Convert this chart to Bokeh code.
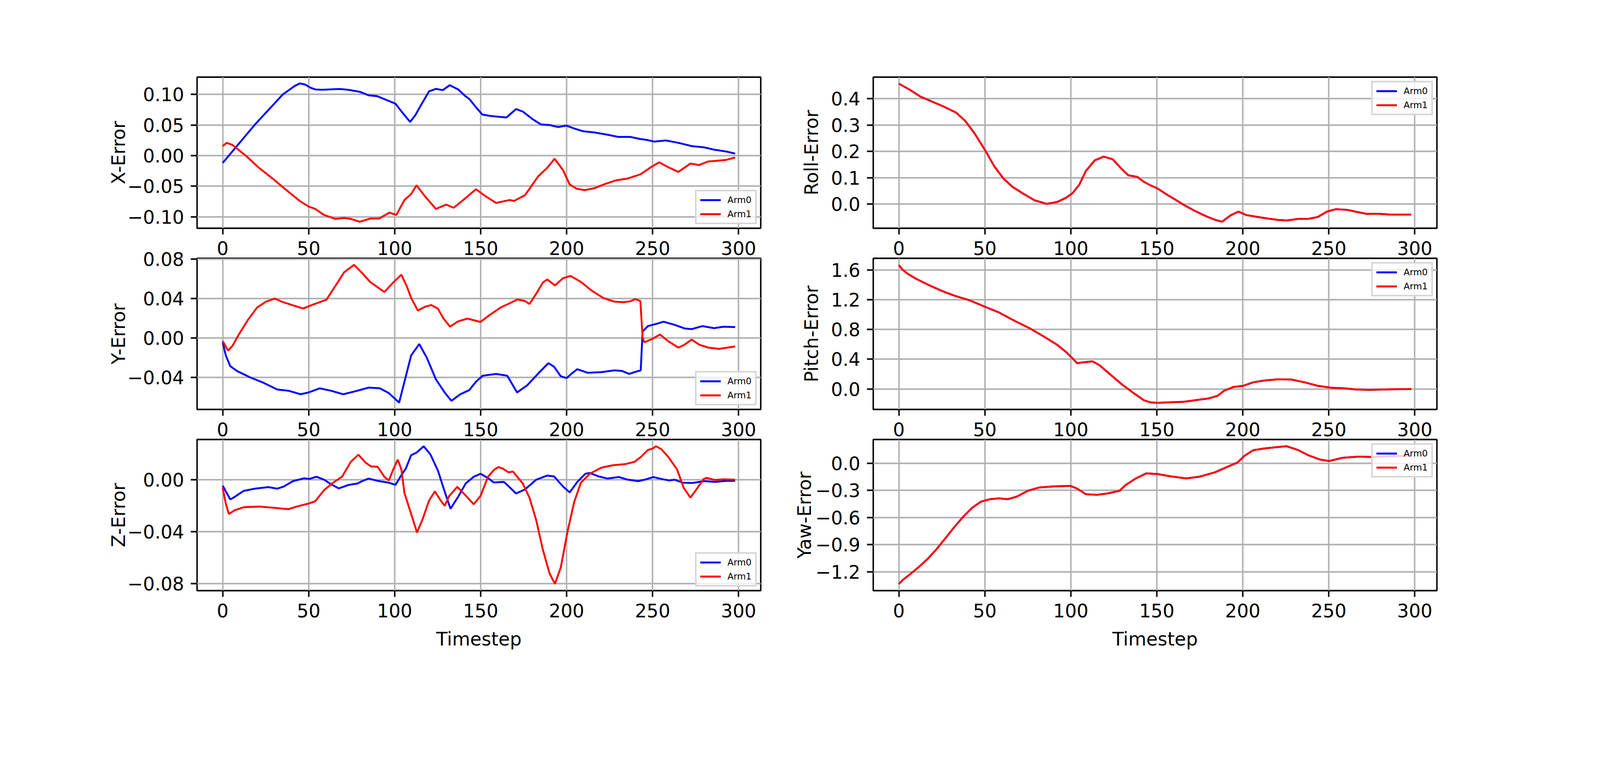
from bokeh.plotting import figure
from bokeh.layouts import row, column
from bokeh.models import FixedTicker, Range1d
from bokeh.embed import file_html
from bokeh.resources import INLINE

# ---------------- data (timestep, value) ----------------
x_arm0 = [(0,-0.0119),(18.7,0.0506),(35,0.100),(39,0.108),(42,0.114),(45,0.118),(48,0.116),(51,0.111),(54,0.108),
          (57.7,0.1076),(68,0.1088),(73,0.1076),
          (80,0.104),(85,0.0984),(90,0.097),(96.6,0.0893),(100.5,0.0848),(104,0.072),(109,0.055),(112,0.066),
          (116,0.0857),(120,0.105),(124,0.109),(128,0.107),(132,0.115),(137,0.108),(141,0.0975),(143.4,0.0926),
          (147,0.080),(151,0.067),(156,0.0646),(165,0.0623),(170.6,0.076),(174.5,0.072),(180,0.060),(185,0.051),
          (190,0.050),(195,0.0467),(200,0.049),(204,0.0447),(209.6,0.0398),(216,0.0379),(224,0.034),(230,0.0305),
          (237,0.0305),(243,0.027),(246,0.026),(251,0.0229),(257.7,0.0248),(265,0.0209),(273,0.0154),(280,0.0135),
          (286,0.0096),(293,0.0066),(298,0.0033)]
x_arm1 = [(0,0.0154),(2.3,0.0209),(5.7,0.0174),(13.5,-0.0002),(21,-0.0197),(29,-0.0373),(35.6,-0.053),(45,-0.0744),
          (50,-0.0832),(53.8,-0.0871),(59,-0.0969),(65.5,-0.1033),(70.6,-0.1018),(74.5,-0.1033),(79.7,-0.108),
          (86,-0.1027),(91,-0.1027),(97,-0.093),(101,-0.0969),(105.7,-0.0725),(109.6,-0.0627),(112.7,-0.0484),
          (117.4,-0.0656),(124,-0.0871),(130,-0.0799),(134.3,-0.0852),(139.5,-0.0734),(147.3,-0.0549),(152.5,-0.0656),
          (159,-0.0773),(166.8,-0.0725),(169.4,-0.074),(175.8,-0.0646),(183.6,-0.0334),(188.8,-0.0197),(193,-0.0051),
          (197.9,-0.0236),(201.8,-0.0471),(205.7,-0.0539),(210.4,-0.0564),(216,-0.0533),(222.6,-0.0461),(229,-0.0402),
          (235.6,-0.0373),(243,-0.0305),(248.6,-0.0197),(253.8,-0.0109),(259,-0.0188),(265,-0.0266),(272,-0.0129),
          (277,-0.0154),(282.3,-0.0096),(287.5,-0.0084),(292.7,-0.007),(298,-0.0031)]

y_arm0 = [(0,-0.0045),(1.8,-0.0178),(4.4,-0.0287),(8.3,-0.0336),(16.1,-0.0402),(23.9,-0.0457),(31.7,-0.0524),
          (38.2,-0.0536),(45.2,-0.0572),(49.9,-0.0554),(56.4,-0.0512),(62.9,-0.0536),(70.1,-0.0572),(77.1,-0.0542),
          (84.9,-0.0505),(91.4,-0.0512),(96.6,-0.056),(102.6,-0.0657),(105.7,-0.0445),(109.6,-0.0178),(114.3,-0.0063),
          (118.7,-0.0202),(124,-0.0421),(129.1,-0.0554),(133,-0.0639),(138.2,-0.0572),(143.4,-0.053),(147.3,-0.0445),
          (151.2,-0.0384),(159,-0.0366),(165.5,-0.0384),(171.2,-0.0554),(177.1,-0.0481),(183.6,-0.036),(189.4,-0.0257),
          (192.7,-0.0293),(196.6,-0.039),(200,-0.0408),(203.1,-0.036),(206.2,-0.0318),(212.2,-0.0354),(220,-0.0348),
          (227.8,-0.033),(232.2,-0.0336),(236.4,-0.0366),(240,-0.0345),(243.1,-0.033),(244.2,0.0064),(247.3,0.0119),
          (252.5,0.0143),(256.4,0.0164),(262.9,0.0131),(268.6,0.0095),(272.7,0.0088),(279,0.0119),(285.7,0.0098),
          (291.4,0.0113),(298,0.0109)]
y_arm1 = [(0,-0.0033),(3.1,-0.013),(5.7,-0.0081),(9.6,0.004),(14.8,0.0185),(20,0.0307),(25.2,0.0367),(30.4,0.0398),
          (34.3,0.0367),(39.5,0.0337),(46.8,0.0297),(52.5,0.0337),(60.3,0.0385),(65.5,0.0525),(70.6,0.0664),
          (76.4,0.074),(81,0.0658),(85.7,0.0567),(90.1,0.0513),(94,0.0464),(99.2,0.0561),(103.9,0.064),(107,0.0525),
          (109.6,0.0404),(113.5,0.0276),(117.4,0.0313),(121.3,0.0333),(125.2,0.0295),(128.3,0.0198),(132.2,0.0113),
          (136.9,0.0167),(142.3,0.0195),(149.9,0.0161),(155,0.0228),(161.6,0.0307),(166.8,0.0349),(171.4,0.0389),
          (175.8,0.0373),(178.4,0.0343),(182.3,0.0446),(186.2,0.0561),(188.8,0.0592),(193.2,0.0531),(197.9,0.0604),
          (202.3,0.0628),(208.3,0.0567),(214.8,0.0476),(221.3,0.0404),(227.8,0.0367),(233,0.0361),(236.9,0.037),
          (240,0.0392),(242.9,0.0373),(244.2,0.0004),(245.2,-0.0045),(249.4,-0.0015),(254.3,0.0034),(259,-0.0033),
          (265,-0.0099),(268.6,-0.0069),(272.7,-0.0018),(277.1,-0.0069),(282.3,-0.0099),(288.8,-0.0112),(298,-0.0087)]

z_arm0 = [(0,-0.0046),(4.4,-0.0152),(7,-0.0132),(12.2,-0.0086),(18.7,-0.0069),(26.5,-0.0057),(31.7,-0.0069),
          (35.6,-0.0052),(40.8,-0.0011),(47.3,0.0011),(50.4,0.0006),(54.5,0.0023),(59,0.0),(62.9,-0.0034),
          (67.5,-0.0067),(73.2,-0.004),(78.4,-0.0029),(81,-0.0011),(84.9,0.0009),(90.1,-0.0009),(96.6,-0.0023),
          (100.5,-0.004),(103.6,0.0029),(106.5,0.0086),(109.6,0.0189),(112.7,0.0209),(116.9,0.0258),(120.8,0.0195),
          (125.2,0.0069),(129.1,-0.0092),(132.5,-0.0224),(136.9,-0.0132),(141.3,-0.0029),(146,0.0023),(149.9,0.0046),
          (153.8,0.0017),(157.7,-0.0021),(163.6,-0.0017),(166.8,-0.0057),(170.6,-0.0106),(175.8,-0.0075),(182.3,0.0),
          (188.8,0.0032),(192.7,0.0025),(197.9,-0.0052),(201.8,-0.0098),(206.2,-0.0017),(210.9,0.0046),(213.5,0.0052),
          (218.7,0.0025),(223.9,0.0009),(230.4,0.0021),(235.6,0.0),(241.6,-0.0011),(246,0.0002),(250.4,0.0021),
          (255.1,0.0006),(259.7,-0.0006),(262.9,0.0),(267.5,-0.0023),(273.2,-0.0025),(280,-0.0011),(286.5,-0.0017),
          (293,-0.0009),(298,-0.0009)]
z_arm1 = [(0,-0.0063),(1.8,-0.0184),(3.6,-0.0264),(7,-0.0235),(12.2,-0.0212),(21.3,-0.0207),(29.1,-0.0216),
          (38.2,-0.0227),(44.7,-0.0201),(49.9,-0.0184),(53.8,-0.0166),(59,-0.008),(64.2,-0.0023),(69.4,0.0023),
          (74.5,0.0138),(78.9,0.0193),(83.1,0.0132),(86.2,0.0103),(90.1,0.01),(94,0.0023),(96.6,-0.0006),(99.2,0.008),
          (101.8,0.0155),(103.9,0.008),(105.7,-0.0103),(109.6,-0.0264),(113,-0.0407),(116.1,-0.031),(120,-0.0161),
          (123.4,-0.009),(126.5,-0.0155),(129.1,-0.0201),(131.7,-0.0126),(136.4,-0.0055),(140.8,-0.0115),(146,-0.0189),
          (149.9,-0.0126),(154.3,0.0023),(157.7,0.0075),(160.3,0.0098),(162.9,0.0086),(166.2,0.0057),(168.8,0.0063),
          (174.5,-0.0029),(178.4,-0.0138),(182.3,-0.031),(186.2,-0.054),(190.1,-0.0723),(193.2,-0.0803),(196.6,-0.0677),
          (200.5,-0.0402),(204.4,-0.0172),(208.3,-0.0023),(213.5,0.0046),(220,0.0092),(226.5,0.0111),(234.3,0.0121),
          (239.5,0.0138),(243.4,0.0178),(247.3,0.023),(249.9,0.0239),(252,0.0258),(255.1,0.0235),(259,0.0178),
          (264.2,0.008),(268.1,-0.0063),(272,-0.0138),(275.8,-0.0069),(279.7,0.0006),(281.5,0.0014),(286.2,-0.0002),
          (291.4,0.0003),(298,0.0)]

roll_arm = [(0,0.4568),(6.2,0.4343),(12.7,0.4072),(19.2,0.3892),(25.7,0.3711),(33.5,0.3463),(38.7,0.3148),
            (43.9,0.2697),(50.4,0.202),(55.5,0.1434),(60.7,0.0983),(65.9,0.0667),(72.4,0.0397),(78.9,0.0149),
            (85.9,0.0014),(91.9,0.0081),(97.1,0.0239),(101,0.0419),(104.9,0.0735),(108.7,0.1254),(113.9,0.166),
            (119.1,0.1804),(124.3,0.1705),(129.5,0.1344),(133.4,0.1096),(138.6,0.1037),(142.5,0.0848),(146.4,0.0713),
            (150.3,0.06),(156.8,0.0329),(162,0.0126),(165.8,-0.0032),(172.3,-0.0257),(178.8,-0.046),(184,-0.0595),
            (187.9,-0.0663),(193.1,-0.0415),(197.5,-0.028),(202.2,-0.0415),(208.7,-0.0483),(215.2,-0.055),
            (220.4,-0.0595),(225.5,-0.0618),(232,-0.0559),(238.5,-0.055),(243.7,-0.0483),(248.9,-0.028),
            (254.1,-0.0189),(260.6,-0.0212),(267.1,-0.0302),(272.3,-0.037),(278.8,-0.0361),(285.3,-0.0392),(298,-0.0392)]
pitch_arm = [(0,1.665),(2.3,1.600),(4.9,1.552),(10.1,1.4795),(17.9,1.391),(25.7,1.311),(32.2,1.2546),(41.3,1.190),
             (50.4,1.102),(58.1,1.030),(67.2,0.917),(76.3,0.813),(84.1,0.708),(91.9,0.596),(97.1,0.4996),(101,0.411),
             (103.6,0.347),(106.2,0.355),(112.6,0.371),(116.5,0.323),(123,0.194),(129.5,0.066),(136,-0.0466),
             (142.5,-0.151),(146.4,-0.180),(150.3,-0.186),(158.1,-0.178),(165.8,-0.172),(172.3,-0.151),(180.1,-0.127),
             (185.3,-0.0916),(189.2,-0.0225),(194.4,0.0257),(200.1,0.0418),(206.1,0.090),(212.6,0.114),(220.4,0.130),
             (228.1,0.127),(235.9,0.090),(243.7,0.0418),(251.5,0.0177),(259.3,0.0096),(265.8,-0.0064),(273.6,-0.0112),
             (282.6,-0.0064),(298,0.0)]
yaw_arm = [(0,-1.333),(2.3,-1.289),(6.2,-1.231),(11.4,-1.149),(16.6,-1.059),(21.8,-0.952),(27,-0.830),(32.2,-0.7066),
           (37.4,-0.592),(42.6,-0.493),(47.8,-0.4246),(53,-0.398),(58.1,-0.3885),(63.3,-0.398),(68.5,-0.370),
           (75,-0.305),(81.5,-0.269),(90.6,-0.2557),(99.7,-0.251),(103.6,-0.280),(108.7,-0.3426),(115.2,-0.349),
           (121.7,-0.333),(128.3,-0.305),(132.1,-0.239),(137.3,-0.174),(143.8,-0.113),(150.3,-0.1197),(158.1,-0.146),
           (167.1,-0.169),(174.9,-0.149),(184,-0.100),(191.8,-0.0344),(196.9,0.0066),(200.9,0.080),(206.1,0.1426),
           (212.6,0.1623),(219.1,0.1754),(225.5,0.1869),(232,0.1459),(238.5,0.0836),(245,0.0393),(250.2,0.023),
           (258,0.059),(267.1,0.0721),(276.2,0.067),(285.3,0.077),(298,0.080)]

# tick values and labels
x_ticks = [0, 50, 100, 150, 200, 250, 300]
x_err_ticks = [-0.10, -0.05, 0.0, 0.05, 0.10]
x_err_labels = ["\u22120.10", "\u22120.05", "0.00", "0.05", "0.10"]
y_err_ticks = [-0.04, 0.0, 0.04, 0.08]
y_err_labels = ["\u22120.04", "0.00", "0.04", "0.08"]
z_err_ticks = [-0.08, -0.04, 0.0]
z_err_labels = ["\u22120.08", "\u22120.04", "0.00"]
roll_ticks = [0.0, 0.1, 0.2, 0.3, 0.4]
roll_labels = ["0.0", "0.1", "0.2", "0.3", "0.4"]
pitch_ticks = [0.0, 0.4, 0.8, 1.2, 1.6]
pitch_labels = ["0.0", "0.4", "0.8", "1.2", "1.6"]
yaw_ticks = [-1.2, -0.9, -0.6, -0.3, 0.0]
yaw_labels = ["\u22121.2", "\u22120.9", "\u22120.6", "\u22120.3", "0.0"]

# sizes below are CSS px (page viewed 4096 CSS px wide -> 4800 px picture)
K = 4096 / 4800
FONT = "DejaVu Sans"
FS = "%.1fpx" % (55.6 * K)
LW = 5.6 * K
SPINE = 4.4 * K
TICK = 16
FW, FH = 1443, 387
BOT_TOP_ROWS = 88     # bottom border of rows 1-2 (holds the x tick labels)
TOP_LOWER_ROWS = 23   # top border of rows 2-3 (room for a top tick label)
OVERLAP = BOT_TOP_ROWS + TOP_LOWER_ROWS - 77


def make(ylabel, yr, yticks, ylabels, s0, s1, legend_loc, bl, br, bt, bb, ylab_standoff, xlabel=None):
    p = figure(output_backend="svg", toolbar_location=None, tools="",
               frame_width=FW, frame_height=FH,
               min_border_left=bl, min_border_right=br, min_border_top=bt, min_border_bottom=bb,
               x_range=Range1d(-14.9, 312.9), y_range=Range1d(*yr))
    p.background_fill_color = "white"
    p.border_fill_alpha = 0
    p.outline_line_color = "black"
    p.outline_line_width = SPINE
    p.grid.grid_line_color = "#b0b0b0"
    p.grid.grid_line_width = SPINE
    p.xaxis.ticker = FixedTicker(ticks=x_ticks)
    p.yaxis.ticker = FixedTicker(ticks=yticks)
    p.yaxis.major_label_overrides = {t: l for t, l in zip(yticks, ylabels)}
    for ax in (p.xaxis, p.yaxis):
        ax.axis_line_color = None
        ax.major_tick_line_width = SPINE
        ax.major_tick_line_color = "black"
        ax.major_tick_out = TICK
        ax.major_tick_in = 0
        ax.minor_tick_line_color = None
        ax.major_label_text_font = FONT
        ax.major_label_text_font_size = FS
        ax.major_label_text_color = "black"
        ax.axis_label_text_font = FONT
        ax.axis_label_text_font_size = FS
        ax.axis_label_text_font_style = "normal"
        ax.axis_label_text_color = "black"
    p.yaxis.major_label_standoff = 17
    p.yaxis.axis_label = ylabel
    p.yaxis.axis_label_standoff = ylab_standoff
    p.xaxis.major_label_standoff = 17
    if xlabel:
        p.xaxis.axis_label = xlabel
        p.xaxis.axis_label_standoff = 25
    p.line([a for a, b in s0], [b for a, b in s0], color="blue", line_width=LW, legend_label="Arm0")
    p.line([a for a, b in s1], [b for a, b in s1], color="red", line_width=LW, legend_label="Arm1")
    lg = p.legend[0]
    lg.location = legend_loc
    lg.margin = 10
    lg.padding = 9
    lg.spacing = 10
    lg.glyph_width = 53
    lg.glyph_height = 20
    lg.label_height = 20
    lg.label_standoff = 17
    lg.label_text_font = FONT
    lg.label_text_font_size = "23px"
    lg.label_text_color = "black"
    lg.border_line_color = "#cccccc"
    lg.border_line_width = 4.3
    lg.border_line_alpha = 0.8
    lg.background_fill_alpha = 0.8
    return p


T1, T2 = 197, TOP_LOWER_ROWS
pX = make("X-Error", (-0.1186, 0.1282), x_err_ticks, x_err_labels, x_arm0, x_arm1, "bottom_right", 504, 50, T1, BOT_TOP_ROWS, -8)
pR = make("Roll-Error", (-0.0911, 0.4816), roll_ticks, roll_labels, roll_arm, roll_arm, "top_right", 238, 395, T1, BOT_TOP_ROWS, 19)
pY = make("Y-Error", (-0.0726, 0.0806), y_err_ticks, y_err_labels, y_arm0, y_arm1, "bottom_right", 504, 50, T2, BOT_TOP_ROWS, -8)
pP = make("Pitch-Error", (-0.2747, 1.7558), pitch_ticks, pitch_labels, pitch_arm, pitch_arm, "top_right", 238, 395, T2, BOT_TOP_ROWS, 19)
pZ = make("Z-Error", (-0.0855, 0.031), z_err_ticks, z_err_labels, z_arm0, z_arm1, "bottom_right", 504, 50, T2, 179, -8, "Timestep")
pW = make("Yaw-Error", (-1.4066, 0.2607), yaw_ticks, yaw_labels, yaw_arm, yaw_arm, "top_right", 238, 395, T2, 179, -3, "Timestep")

r1 = row(pX, pR)
r2 = row(pY, pP, margin=(-OVERLAP, 0, 0, 0))
r3 = row(pZ, pW, margin=(-OVERLAP, 0, 0, 0))
layout = column(r1, r2, r3)

open("out.html", "w").write(file_html(layout, INLINE))
